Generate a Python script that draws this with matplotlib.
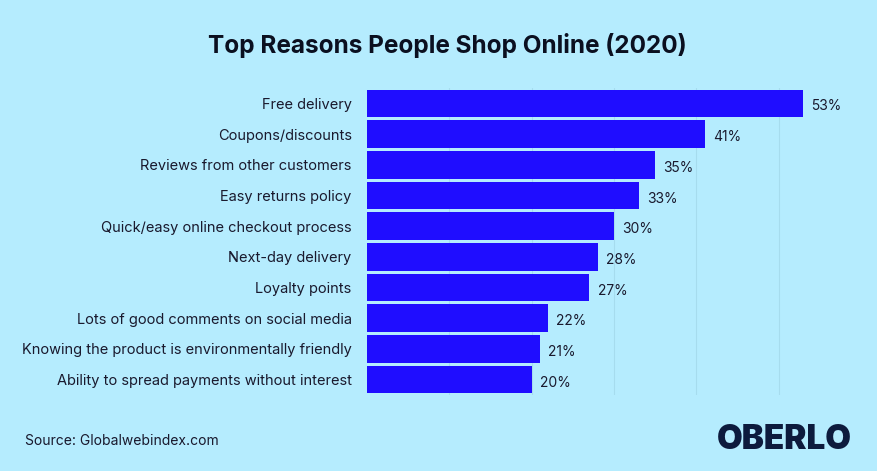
import matplotlib
matplotlib.use("Agg")
import matplotlib.pyplot as plt

categories = ["Free delivery", "Coupons/discounts", "Reviews from other customers",
              "Easy returns policy", "Quick/easy online checkout process",
              "Next-day delivery", "Loyalty points",
              "Lots of good comments on social media",
              "Knowing the product is environmentally friendly",
              "Ability to spread payments without interest"]
values = [53, 41, 35, 33, 30, 28, 27, 22, 21, 20]

W, H = 877, 471
bg = "#b5ecfe"
fig = plt.figure(figsize=(W/100, H/100), dpi=100, facecolor=bg)
ax = fig.add_axes([367/W, 1-395/H, (861-367)/W, (395-88)/H])
ax.set_facecolor(bg)
y = list(range(len(categories)))
ax.barh(y, values, height=0.9, color="#1f0dff")
ax.set_ylim(len(categories)-0.5, -0.5)
ax.set_xlim(0, 60)
for v in [10, 20, 30, 40, 50]:
    ax.axvline(v, color="#a6dcee", lw=0.8, zorder=0)
for yi, v in zip(y, values):
    ax.text(v+1, yi+0.1, f"{v}%", va="center", ha="left", fontsize=10, color="#1a1a2e", family="Inter")
ax.set_yticks(y)
ax.set_yticklabels(categories, fontsize=10.5, color="#1a1a2e", family="Inter")
ax.tick_params(axis="y", length=0, pad=11)
ax.set_xticks([])
for s in ax.spines.values():
    s.set_visible(False)
fig.text(447/W, 1-46/H, "Top Reasons People Shop Online (2020)", ha="center", va="center",
         fontsize=17.5, fontweight="bold", color="#0b1020", family="Inter")
fig.text(25/W, 1-441/H, "Source: Globalwebindex.com", ha="left", va="center",
         fontsize=10, color="#1a1a2e", family="Inter")
fig.text(852/W, 1-440/H, "OBERLO", ha="right", va="center", fontsize=24,
         fontweight="black", color="#0d1b3d", family="Inter")
fig.savefig("out.png", dpi=100, facecolor=bg)
